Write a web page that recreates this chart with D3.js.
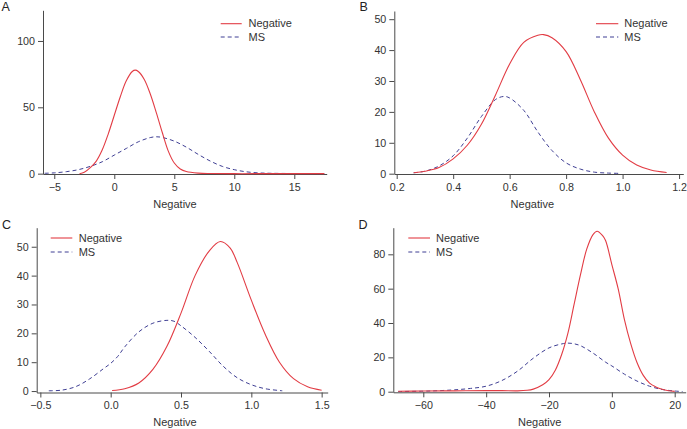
<!DOCTYPE html>
<html>
<head>
<meta charset="utf-8">
<script src="https://cdn.jsdelivr.net/npm/d3@7"></script>
<style>
  html, body { margin: 0; padding: 0; background: #fff; }
  svg { display: block; font-family: "Liberation Sans", Arial, sans-serif; }
</style>
</head>
<body>
<svg id="chart" width="687" height="429"></svg>
<script>
// ---------------- DATA ----------------
const seriesNames = ["Negative", "MS"];
const panelLetters = ["A", "B", "C", "D"];
const xAxisTitle = "Negative";

// Panel A
const aNegative = [[-2.9,0],[-2.5,1],[-2.0,4.5],[-1.5,9.5],[-1.0,18],[-0.5,30],[0.0,44],[0.5,58],[1.0,70],[1.5,77],[1.75,78],[2.0,77],[2.5,71],[3.0,60],[3.5,46],[4.0,31],[4.5,17],[5.0,8],[5.5,3.5],[6.0,1.6],[7.0,0.4],[8.0,0.1],[10,0],[12,0],[15,0],[17.5,0]];
const aMS = [[-5.8,0.3],[-5,0.6],[-4,1.5],[-3,3],[-2,5.5],[-1,9],[0,14],[1,19],[2,24],[3,27.2],[3.5,27.8],[4,27.3],[5,24.5],[6,20],[7,14.5],[8,9.5],[9,5.5],[10,3],[11,1.4],[12,0.6],[13,0.3],[15,0.1],[17.5,0]];
const aXTicks = [-5, 0, 5, 10, 15];
const aYTicks = [0, 50, 100];

// Panel B
const bNegative = [[0.26,0.3],[0.30,0.8],[0.35,2],[0.40,4.8],[0.45,9.2],[0.50,16],[0.55,25.5],[0.60,35.5],[0.65,42.5],[0.70,44.8],[0.72,45],[0.75,44],[0.80,39.5],[0.85,30.5],[0.90,20],[0.95,11.5],[1.00,6],[1.05,2.8],[1.10,1.2],[1.156,0.4]];
const bMS = [[0.26,0.3],[0.30,0.8],[0.35,2.5],[0.40,5.8],[0.45,11.5],[0.50,18.5],[0.55,24],[0.58,25],[0.60,24.5],[0.65,20.5],[0.70,13.5],[0.75,7.5],[0.80,3.5],[0.85,1.5],[0.90,0.5],[0.95,0.2],[0.99,0.1]];
const bXTicks = [0.2, 0.4, 0.6, 0.8, 1.0, 1.2];
const bYTicks = [0, 10, 20, 30, 40, 50];

// Panel C
const cNegative = [[0.01,0.2],[0.10,0.8],[0.20,2.8],[0.30,7.5],[0.40,15.5],[0.50,27],[0.60,40],[0.70,48.5],[0.78,51.8],[0.85,49.5],[0.90,44.5],[1.00,31.5],[1.10,19.5],[1.20,10],[1.30,4.3],[1.40,1.5],[1.50,0.3]];
const cMS = [[-0.44,0.1],[-0.35,0.3],[-0.25,1.5],[-0.15,4.2],[-0.05,7.8],[0.00,9.6],[0.05,12],[0.10,15.3],[0.20,20.5],[0.30,23.5],[0.40,24.5],[0.45,24.2],[0.50,22.6],[0.60,18.6],[0.70,13.8],[0.80,8.6],[0.90,4.6],[1.00,2.2],[1.10,0.8],[1.22,0.1]];
const cXTicks = [-0.5, 0.0, 0.5, 1.0, 1.5];
const cYTicks = [0, 10, 20, 30, 40, 50];

// Panel D
const dNegative = [[-68,0.3],[-60,0.4],[-50,0.5],[-40,0.6],[-35,0.6],[-30,0.5],[-27,0.8],[-25,1.5],[-22,4],[-20,7],[-18,12.5],[-16,21.5],[-14,34],[-12,51],[-10,68],[-8,83],[-6,91.5],[-4.7,93.4],[-3,91],[-2,88],[0,74],[2,60],[4,42],[6,28],[8,17],[10,9.5],[12,5],[14,2.8],[16,1.4],[18,0.6],[20,0.2]];
const dMS = [[-68,0.1],[-60,0.3],[-55,0.6],[-50,1.1],[-45,1.9],[-40,3.2],[-35,6.5],[-30,12],[-25,19.5],[-20,25.5],[-16,27.8],[-14,28.3],[-12,27.9],[-10,26.8],[-6,22.5],[-2,17.2],[0,15],[4,10.2],[8,6.2],[12,3.2],[16,1.3],[20,0.4],[22.5,0.1]];
const dXTicks = [-60, -40, -20, 0, 20];
const dYTicks = [0, 20, 40, 60, 80];

// ---------------- LAYOUT ----------------
const colors = { neg: "#e23c44", ms: "#3f3f94", axis: "#4a4a4a", text: "#333" };

const panels = [
  { letter: panelLetters[0], neg: aNegative, ms: aMS, xt: aXTicks, yt: aYTicks, fmt: d3.format("d"),
    xDom: [-5.94, 17.7], xRange: [43, 326.7], yDom: [-0.25, 123.1], yRange: [174, 10.3],
    letterPos: [1.5, 10.5], titlePos: [175, 207.5],
    legend: { x1: 220.7, x2: 241.7, tx: 248.5, y: 23.7, dy: 13.3 } },
  { letter: panelLetters[1], neg: bNegative, ms: bMS, xt: bXTicks, yt: bYTicks, fmt: d3.format(".1f"),
    xDom: [0.1915, 1.215], xRange: [394.3, 683.3], yDom: [-0.1, 52.65], yRange: [174, 11],
    letterPos: [359.5, 10.5], titlePos: [532.3, 207.5],
    legend: { x1: 596, x2: 618.3, tx: 624.3, y: 23.7, dy: 13.3 } },
  { letter: panelLetters[2], neg: cNegative, ms: cMS, xt: cXTicks, yt: cYTicks, fmt: d3.format(".1f"),
    xDom: [-0.526, 1.543], xRange: [36.7, 327.7], yDom: [-0.5, 56.6], yRange: [392.5, 227.7],
    letterPos: [2, 228.8], titlePos: [175, 425.5],
    legend: { x1: 50.7, x2: 72.3, tx: 78.7, y: 238, dy: 14 } },
  { letter: panelLetters[3], neg: dNegative, ms: dMS, xt: dXTicks, yt: dYTicks, fmt: d3.format("d"),
    xDom: [-69.55, 23.5], xRange: [393.3, 685.7], yDom: [-0.35, 95.5], yRange: [392.3, 227.7],
    letterPos: [358.5, 228.8], titlePos: [539.7, 425.5],
    legend: { x1: 408.3, x2: 430, tx: 436, y: 238, dy: 14 } }
];

const svg = d3.select("#chart");

panels.forEach(p => {
  const x = d3.scaleLinear().domain(p.xDom).range(p.xRange);
  const y = d3.scaleLinear().domain(p.yDom).range(p.yRange);
  const g = svg.append("g");

  const xa = g.append("g")
    .attr("transform", `translate(0,${p.yRange[0]})`)
    .call(d3.axisBottom(x).tickValues(p.xt).tickFormat(p.fmt).tickSize(5).tickSizeOuter(0).tickPadding(4));
  const ya = g.append("g")
    .attr("transform", `translate(${p.xRange[0]},0)`)
    .call(d3.axisLeft(y).tickValues(p.yt).tickFormat(d3.format("d")).tickSize(5).tickSizeOuter(0).tickPadding(3));

  [xa, ya].forEach(a => {
    a.select(".domain").attr("stroke", colors.axis).attr("stroke-width", 1);
    a.selectAll(".tick line").attr("stroke", colors.axis).attr("stroke-width", 1);
    a.selectAll(".tick text").attr("fill", colors.text)
      .style("font-size", "10.7px").style("font-family", '"Liberation Sans", Arial, sans-serif');
  });

  const line = d3.line().x(d => x(d[0])).y(d => y(Math.max(0, d[1])))
    .curve(d3.curveCatmullRom.alpha(0.5));

  g.append("path").datum(p.ms).attr("d", line)
    .attr("fill", "none").attr("stroke", colors.ms).attr("stroke-width", 1)
    .attr("stroke-dasharray", "4,3");
  g.append("path").datum(p.neg).attr("d", line)
    .attr("fill", "none").attr("stroke", colors.neg).attr("stroke-width", 1.1);

  const L = p.legend;
  g.append("line").attr("x1", L.x1).attr("x2", L.x2).attr("y1", L.y).attr("y2", L.y)
    .attr("stroke", colors.neg).attr("stroke-width", 1.1);
  g.append("line").attr("x1", L.x1).attr("x2", L.x2).attr("y1", L.y + L.dy).attr("y2", L.y + L.dy)
    .attr("stroke", colors.ms).attr("stroke-width", 1).attr("stroke-dasharray", "4,3");
  g.append("text").attr("x", L.tx).attr("y", L.y + 3.6).text(seriesNames[0])
    .attr("fill", colors.text).style("font-size", "11px");
  g.append("text").attr("x", L.tx).attr("y", L.y + L.dy + 3.6).text(seriesNames[1])
    .attr("fill", colors.text).style("font-size", "11px");

  g.append("text").attr("x", p.titlePos[0]).attr("y", p.titlePos[1]).attr("text-anchor", "middle")
    .text(xAxisTitle).attr("fill", colors.text).style("font-size", "11px");

  g.append("text").attr("x", p.letterPos[0]).attr("y", p.letterPos[1]).text(p.letter)
    .attr("fill", "#222").style("font-size", "12.5px");
});
</script>
</body>
</html>
